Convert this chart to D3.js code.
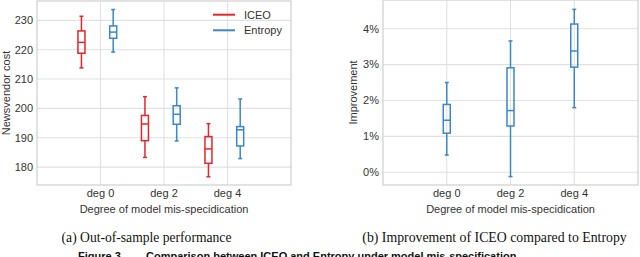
<!DOCTYPE html>
<html>
<head>
<meta charset="utf-8">
<script src="https://cdn.jsdelivr.net/npm/d3@7"></script>
<style>
  html, body { margin: 0; padding: 0; background: #fff; }
  svg { display: block; }
</style>
</head>
<body>
<svg id="mainsvg" width="640" height="257"></svg>
<script>
// data: [whiskerLow, q1, median, q3, whiskerHigh]
const categories = ["deg 0", "deg 2", "deg 4"]
const iceoStats = [
  [213.8, 218.8, 222.5, 226.4, 231.4],
  [183.3, 189.0, 194.7, 197.6, 204.0],
  [176.7, 181.3, 186.2, 190.4, 194.8]
]
const entropyStats = [
  [219.2, 223.9, 226.0, 228.1, 233.7],
  [188.9, 194.6, 198.0, 200.9, 207.0],
  [182.9, 187.2, 192.7, 193.8, 203.2]
]
const improvementStats = [
  [0.48, 1.09, 1.45, 1.89, 2.50],
  [-0.12, 1.29, 1.72, 2.91, 3.66],
  [1.80, 2.93, 3.38, 4.13, 4.54]
]
const costTicks = [180, 190, 200, 210, 220, 230]
const pctTicks = [0, 1, 2, 3, 4]
const seriesNames = ["ICEO", "Entropy"]
const seriesColors = ["#e3262b", "#3a88c8"]

const tickFont = "'Liberation Sans', Arial, sans-serif"
const gridColor = "#e1e1e1"
const frameColor = "#cfcfcf"
const textColor = "#333"

const svg = d3.select("#mainsvg")

function drawPanel(g, x, y, ticks, tickFmt, yLabel, yLabelX) {
  const [x0, x1] = x.range()
  const [y1, y0] = y.range()
  // grid
  g.selectAll(".hgrid").data(ticks).join("line")
    .attr("x1", x0).attr("x2", x1)
    .attr("y1", d => y(d)).attr("y2", d => y(d))
    .attr("stroke", gridColor).attr("stroke-width", 1.1)
  g.selectAll(".vgrid").data(categories).join("line")
    .attr("x1", d => x(d)).attr("x2", d => x(d))
    .attr("y1", y0).attr("y2", y1)
    .attr("stroke", gridColor).attr("stroke-width", 1.1)
  g.append("rect")
    .attr("x", x0).attr("y", y0)
    .attr("width", x1 - x0).attr("height", y1 - y0)
    .attr("fill", "none").attr("stroke", frameColor).attr("stroke-width", 1.2)
  // tick labels
  g.selectAll(".ytick").data(ticks).join("text")
    .attr("x", x0 - 4).attr("y", d => y(d))
    .attr("dy", "0.35em").attr("text-anchor", "end")
    .attr("font-family", tickFont).attr("font-size", 11).attr("fill", textColor)
    .text(tickFmt)
  g.selectAll(".xtick").data(categories).join("text")
    .attr("x", d => x(d)).attr("y", y1 + 8)
    .attr("dy", "0.35em").attr("text-anchor", "middle")
    .attr("font-family", tickFont).attr("font-size", 11).attr("fill", textColor)
    .text(d => d)
  g.append("text")
    .attr("x", (x0 + x1) / 2).attr("y", y1 + 24)
    .attr("dy", "0.35em").attr("text-anchor", "middle")
    .attr("font-family", tickFont).attr("font-size", 11).attr("fill", textColor)
    .text("Degree of model mis-specidication")
  g.append("text")
    .attr("transform", `translate(${yLabelX},${(y0 + y1) / 2}) rotate(-90)`)
    .attr("dy", "0.35em").attr("text-anchor", "middle")
    .attr("font-family", tickFont).attr("font-size", 11).attr("fill", textColor)
    .text(yLabel)
}

function drawBoxes(g, x, y, stats, offset, color) {
  const boxW = 7, capW = 4
  const b = g.selectAll(null).data(stats).join("g")
    .attr("transform", (d, i) => `translate(${x(categories[i]) + offset * x.step()},0)`)
    .attr("stroke", color).attr("stroke-width", 1.5).attr("fill", "none")
  b.append("line").attr("x1", 0).attr("x2", 0)
    .attr("y1", d => y(d[0])).attr("y2", d => y(d[1]))
  b.append("line").attr("x1", 0).attr("x2", 0)
    .attr("y1", d => y(d[3])).attr("y2", d => y(d[4]))
  b.append("line").attr("x1", -capW / 2).attr("x2", capW / 2)
    .attr("y1", d => y(d[0])).attr("y2", d => y(d[0]))
  b.append("line").attr("x1", -capW / 2).attr("x2", capW / 2)
    .attr("y1", d => y(d[4])).attr("y2", d => y(d[4]))
  b.append("rect")
    .attr("x", -boxW / 2).attr("width", boxW)
    .attr("y", d => y(d[3])).attr("height", d => y(d[1]) - y(d[3]))
  b.append("line").attr("x1", -boxW / 2).attr("x2", boxW / 2)
    .attr("y1", d => y(d[2])).attr("y2", d => y(d[2]))
}

// (a) newsvendor cost
const xA = d3.scalePoint().domain(categories).range([37, 291]).padding(1)
const yA = d3.scaleLinear().domain([173.9, 236.6]).range([185, 1])
const gA = svg.append("g")
drawPanel(gA, xA, yA, costTicks, d => d, "Newsvendor cost", 6)
drawBoxes(gA, xA, yA, iceoStats, -0.3, seriesColors[0])
drawBoxes(gA, xA, yA, entropyStats, 0.2, seriesColors[1])

// legend
const leg = gA.selectAll(".leg").data(seriesNames).join("g")
  .attr("transform", (d, i) => `translate(213,${14.7 + i * 15.6})`)
leg.append("line").attr("x1", 0).attr("x2", 22)
  .attr("stroke", (d, i) => seriesColors[i]).attr("stroke-width", 2)
leg.append("text").attr("x", 31).attr("dy", "0.35em")
  .attr("font-family", tickFont).attr("font-size", 11).attr("fill", textColor)
  .text(d => d)

// (b) improvement
const xB = d3.scalePoint().domain(categories).range([383, 638]).padding(1)
const yB = d3.scaleLinear().domain([-0.354, 4.8]).range([185, 0])
const gB = svg.append("g")
drawPanel(gB, xB, yB, pctTicks, d => d + "%", "Improvement", 353)
drawBoxes(gB, xB, yB, improvementStats, 0, seriesColors[1])

// captions
const serif = "'Liberation Serif', 'DejaVu Serif', serif"
svg.append("text").attr("x", 146.5).attr("y", 242).attr("text-anchor", "middle")
  .attr("font-family", serif).attr("font-size", 13.6).attr("fill", "#111")
  .text("(a) Out-of-sample performance")
svg.append("text").attr("x", 494.5).attr("y", 242).attr("text-anchor", "middle")
  .attr("font-family", serif).attr("font-size", 13.8).attr("fill", "#111")
  .text("(b) Improvement of ICEO compared to Entropy")
// figure title, cut by the bottom edge as in the original
svg.append("text").attr("x", 78).attr("y", 260)
  .attr("font-family", tickFont).attr("font-size", 11).attr("font-weight", "bold").attr("fill", "#111")
  .text("Figure 3")
svg.append("text").attr("x", 146).attr("y", 260)
  .attr("font-family", tickFont).attr("font-size", 11).attr("font-weight", "bold").attr("fill", "#111")
  .text("Comparison between ICEO and Entropy under model mis-specification")
</script>
</body>
</html>
